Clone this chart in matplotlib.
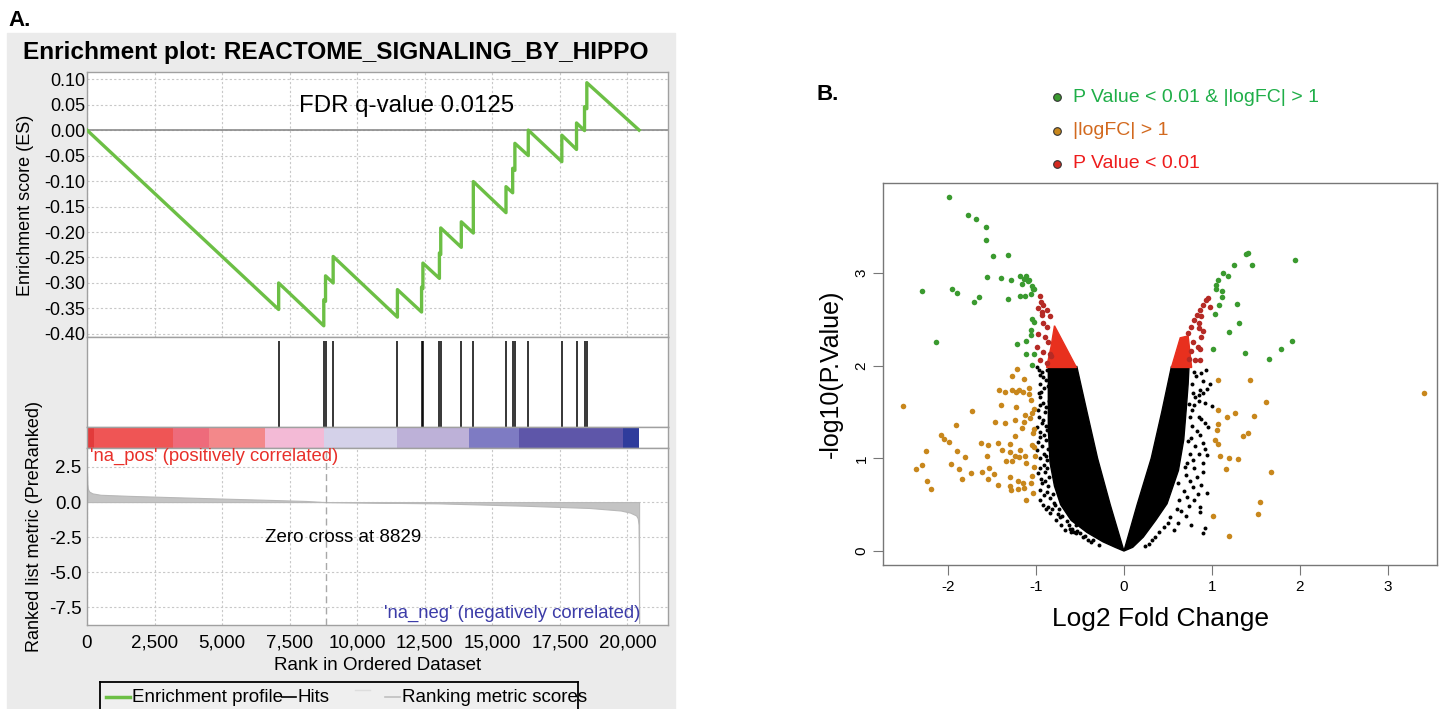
import numpy as np
import matplotlib.pyplot as plt
from matplotlib.lines import Line2D
from matplotlib.patches import Rectangle, Polygon

plt.rcParams['font.family'] = ['Liberation Sans', 'DejaVu Sans']
plt.rcParams['axes.unicode_minus'] = False

# ============ panel A data (GSEA) ============
n_genes = 20430
zero_cross = 8829
fdr_q = 0.0125
hit_ranks = [7092, 8762, 8827, 9109, 11487, 12381, 12430, 13041, 13090, 13851,
             14296, 15505, 15752, 15834, 16329, 17571, 18115, 18411, 18496]
es_rank = [0, 7092, 7092, 8762, 8762, 8827, 8827, 9109, 9109, 11487, 11487,
           12381, 12381, 12430, 12430, 13041, 13041, 13090, 13090, 13851, 13851,
           14296, 14296, 15505, 15505, 15752, 15752, 15834, 15834, 16329, 16329,
           17571, 17571, 18115, 18115, 18411, 18411, 18496, 18496, 20430]
es_score = [0, -0.352, -0.300, -0.384, -0.333, -0.336, -0.286, -0.300, -0.248,
            -0.367, -0.313, -0.357, -0.308, -0.311, -0.261, -0.291, -0.241,
            -0.244, -0.192, -0.230, -0.180, -0.202, -0.101, -0.162, -0.111,
            -0.123, -0.075, -0.079, -0.026, -0.050, 0.000, -0.062, -0.010,
            -0.038, 0.014, -0.001, 0.046, 0.042, 0.093, 0.0]
bar_edges = [0, 267, 3191, 4515, 6580, 8762, 11456, 14148, 16000, 19834, 20430]
bar_colors = ['#e23b3b', '#ef5555', '#ee6b7b', '#f3888a', '#f3bad6',
              '#d4d1e9', '#bdb1d8', '#7e7bc3', '#5e56a9', '#2f3c9c']
metric_rank = [0, 10, 30, 80, 200, 500, 1600, 3000, 4800, 6500, 8100, 8829,
               10500, 13000, 16200, 18600, 19750, 20100, 20320, 20380, 20410,
               20420, 20430]
metric_value = [2.05, 1.3, 0.95, 0.75, 0.62, 0.52, 0.44, 0.36, 0.26, 0.17, 0.08,
                0.0, -0.04, -0.09, -0.26, -0.42, -0.60, -0.75, -0.95, -1.15,
                -1.6, -3.5, -8.6]
rank_ticks = [0, 2500, 5000, 7500, 10000, 12500, 15000, 17500, 20000]
es_ticks = [0.10, 0.05, 0.00, -0.05, -0.10, -0.15, -0.20, -0.25, -0.30, -0.35, -0.40]
metric_ticks = [2.5, 0.0, -2.5, -5.0, -7.5]

# ============ panel B data (volcano) ============
green_fc = [-1.99, -1.77, -1.68, -1.57, -1.57, -1.49, -1.32, -1.56, -1.40, -1.28,
            -1.18, -1.11, -1.16, -1.04, -1.02, -1.06, -1.13, -1.18, -1.08, -2.30,
            -1.95, -1.90, -1.71, -1.65, -1.32, -2.14, -1.05, -1.02, -1.06, -1.06,
            -1.11, -1.22, -1.11, -1.02, -1.04, -1.14, -1.09, -1.03,
            1.41, 1.39, 1.95, 1.25, 1.46, 1.13, 1.18, 1.07, 1.05, 1.05,
            1.12, 1.11, 1.28, 1.08, 1.03, 1.31, 1.20, 1.91, 1.01, 1.79, 1.38, 1.65]
green_p = [3.82, 3.62, 3.58, 3.49, 3.35, 3.18, 3.19, 2.96, 2.95, 2.92,
           2.97, 2.97, 2.88, 2.86, 2.83, 2.77, 2.75, 2.75, 2.92, 2.81,
           2.83, 2.78, 2.69, 2.74, 2.72, 2.25, 2.50, 2.47, 2.38, 2.33,
           2.27, 2.23, 2.12, 2.13, 2.01, 2.93, 2.91, 2.83,
           3.22, 3.20, 3.14, 3.09, 3.08, 3.00, 2.97, 2.92, 2.87, 2.83,
           2.81, 2.74, 2.66, 2.65, 2.56, 2.46, 2.36, 2.27, 2.18, 2.18, 2.14, 2.07]

orange_fc = [-2.51, -1.73, -1.22, -1.27, -1.14, -1.42, -1.35, -1.27, -1.23, -1.19,
             -1.15, -1.08, -1.08, -1.06, -1.40, -1.23, -1.02, -1.04, -1.13, -1.07,
             -1.91, -1.47, -1.35, -1.24, -1.14, -1.16, -1.02, -1.24, -1.03, -2.08,
             -2.05, -1.99, -1.62, -1.55, -1.43, -1.30, -1.39, -1.30, -1.18, -1.04,
             -1.02, -1.90, -2.25, -1.56, -1.81, -1.24, -1.19, -1.13, -1.01, -1.34,
             -1.27, -1.11, -1.97, -2.30, -2.37, -1.88, -1.53, -1.02, -1.74, -1.61,
             -1.48, -1.84, -1.55, -1.30, -1.05, -2.24, -1.43, -1.30, -1.20, -1.15,
             -1.06, -2.19, -1.29, -1.20, -1.14, -1.03, -1.11,
             3.41, 1.07, 1.43, 1.61, 1.07, 1.26, 1.17, 1.48, 1.07, 1.06,
             1.41, 1.35, 1.04, 1.07, 1.09, 1.19, 1.30, 1.16, 1.67, 1.55,
             1.53, 1.01, 1.19]
orange_p = [1.56, 1.51, 1.96, 1.89, 1.86, 1.74, 1.72, 1.74, 1.72, 1.74,
            1.71, 1.76, 1.69, 1.63, 1.57, 1.55, 1.53, 1.49, 1.47, 1.43,
            1.36, 1.39, 1.38, 1.41, 1.39, 1.33, 1.32, 1.24, 1.27, 1.25,
            1.21, 1.18, 1.17, 1.14, 1.17, 1.15, 1.09, 1.07, 1.09, 1.14,
            1.12, 1.08, 1.08, 1.03, 1.01, 1.02, 1.01, 1.02, 1.02, 0.97,
            0.97, 0.95, 0.94, 0.93, 0.88, 0.88, 0.90, 0.91, 0.84, 0.85,
            0.83, 0.78, 0.78, 0.80, 0.81, 0.76, 0.71, 0.70, 0.75, 0.73,
            0.73, 0.67, 0.66, 0.67, 0.68, 0.63, 0.55,
            1.70, 1.85, 1.84, 1.61, 1.52, 1.49, 1.45, 1.46, 1.37, 1.30,
            1.27, 1.24, 1.20, 1.15, 1.02, 1.00, 0.99, 0.89, 0.85, 0.53,
            0.40, 0.38, 0.16]

red_fc = [-0.96, -0.94, -0.92, -0.98, -0.93, -0.88, -0.84, -0.93, -0.92, -0.88,
          -0.98, -0.90, -0.86, -0.99, -0.92, -0.84, -0.96, -0.88, -0.83,
          0.96, 0.93, 0.90, 0.98, 0.87, 0.83, 0.88, 0.80, 0.85, 0.76,
          0.85, 0.90, 0.73, 0.88, 0.79, 0.84, 0.76, 0.87, 0.81, 0.86, 0.74]
red_p = [2.75, 2.69, 2.65, 2.62, 2.58, 2.60, 2.53, 2.55, 2.46, 2.42,
         2.34, 2.31, 2.26, 2.20, 2.15, 2.13, 2.06, 2.03, 2.10,
         2.73, 2.71, 2.65, 2.63, 2.60, 2.55, 2.53, 2.49, 2.46, 2.42,
         2.41, 2.37, 2.35, 2.31, 2.25, 2.20, 2.16, 2.18, 2.06, 2.06, 2.07]
# dense red wedges (too many points to resolve)
red_left_fc = [-0.54, -0.88, -0.83, -0.79]
red_left_p = [1.98, 1.98, 2.20, 2.43]
red_right_fc = [0.54, 0.64, 0.73, 0.77]
red_right_p = [1.98, 2.30, 2.32, 1.98]

# dense black core of the non-significant genes
black_left_fc = [0, -0.10, -0.24, -0.42, -0.60, -0.72, -0.79, -0.84, -0.86, -0.86,
                 -0.86, -0.536, -0.42, -0.30, -0.156]
black_left_p = [0, 0.04, 0.10, 0.20, 0.33, 0.50, 0.70, 0.95, 1.30, 1.65,
                1.99, 1.99, 1.50, 1.00, 0.50]
black_right_fc = [0, 0.10, 0.22, 0.36, 0.49, 0.62, 0.68, 0.71, 0.73, 0.74,
                  0.54, 0.43, 0.31, 0.15]
black_right_p = [0, 0.04, 0.15, 0.33, 0.51, 0.87, 1.20, 1.55, 1.80, 1.99,
                 1.99, 1.50, 1.00, 0.50]
black_fc = [-0.99, -0.96, -0.94, -0.98, -0.99, -0.99, -0.98, -0.96, -0.92, -0.88,
            -0.84, -0.77, -0.67, -0.60, -0.54, -0.88, -0.89, -0.96, -0.92, -0.96,
            -0.88, -0.93, -0.81, -0.86, -0.73, -0.61, -0.50, -0.41, -0.81, -0.82,
            -0.79, -0.69, -0.59, -0.57, -0.35, -0.86, -0.90, -0.87, -0.91, -0.85,
            -0.90, -0.84, -0.86, -0.89, -0.85, -0.92, -0.78, -0.74, -0.65, -0.55,
            -0.47, -0.28,
            -0.97, -0.93, -0.95, -0.91, -0.97, -0.92, -0.95, -0.89, -0.97, -0.93,
            -0.89, -0.95, -0.91, -0.98, -0.93, -0.89, -0.95, -0.91, -0.96, -0.88,
            -0.94, -0.90, -0.86, -0.96, -0.91, -0.84, -0.80, -0.89, -0.82, -0.75,
            -0.70, -0.72, -0.63, -0.53, -0.44, -0.38,
            1.00, 0.96, 0.88, 0.95, 0.90, 0.95, 0.87, 0.86, 0.76, 0.90,
            0.57, 0.74, 0.65, 0.78, 0.88, 0.83, 0.79, 0.81, 0.90, 0.83,
            0.85, 0.77, 0.73, 0.69, 0.62, 0.52, 0.45, 0.32, 0.24, 0.82,
            0.90, 0.98, 0.86, 0.77, 0.85, 0.81, 0.74, 0.92,
            0.93, 0.88, 0.80, 0.95, 0.90, 0.78, 0.92, 0.80, 0.75, 0.85,
            0.92, 0.77, 0.87, 0.76, 0.92, 0.75, 0.85, 0.72, 0.90, 0.80,
            0.70, 0.75, 0.68, 0.84, 0.72, 0.63, 0.80, 0.60, 0.70, 0.50,
            0.62, 0.40, 0.35, 0.28]
black_p = [1.99, 1.90, 1.72, 1.52, 1.34, 1.09, 0.84, 0.55, 0.50, 0.64,
           0.41, 0.33, 0.23, 0.21, 0.19, 1.95, 1.84, 1.66, 1.41, 1.23,
           0.98, 0.73, 0.62, 0.48, 0.37, 0.24, 0.19, 0.12, 1.59, 1.16,
           0.87, 0.51, 0.24, 0.21, 0.12, 1.78, 1.50, 1.30, 1.05, 0.80,
           0.85, 1.45, 1.10, 1.20, 1.62, 1.88, 0.50, 0.45, 0.32, 0.28,
           0.15, 0.06,
           1.95, 1.93, 1.80, 1.76, 1.70, 1.60, 1.57, 1.55, 1.45, 1.38,
           1.35, 1.28, 1.25, 1.18, 1.13, 1.02, 1.00, 0.93, 0.90, 0.90,
           0.78, 0.75, 0.70, 0.66, 0.60, 0.57, 0.52, 0.45, 0.45, 0.40,
           0.38, 0.28, 0.28, 0.22, 0.16, 0.10,
           1.56, 1.34, 1.42, 1.04, 0.85, 0.63, 0.48, 0.42, 0.28, 0.19,
           0.23, 0.49, 0.43, 0.69, 0.71, 0.80, 0.98, 1.13, 1.16, 1.29,
           1.62, 1.52, 1.19, 0.91, 0.73, 0.37, 0.26, 0.12, 0.05, 1.89,
           1.83, 1.80, 1.74, 1.80, 1.68, 1.66, 1.59, 0.25,
           1.95, 1.92, 1.93, 1.75, 1.70, 1.70, 1.60, 1.58, 1.45, 1.45,
           1.38, 1.35, 1.25, 1.22, 1.10, 1.05, 1.05, 0.95, 0.95, 0.90,
           0.82, 0.75, 0.65, 0.62, 0.58, 0.55, 0.55, 0.45, 0.38, 0.30,
           0.30, 0.20, 0.15, 0.08]

legend_labels = ['P Value < 0.01 & |logFC| > 1', '|logFC| > 1', 'P Value < 0.01']
legend_colors = ['#1fae48', '#d2691e', '#ee1c1c']
legend_dots = ['#3a9a2f', '#c8871c', '#d42a20']

W, H = 1448, 709
fig = plt.figure(figsize=(W / 100, H / 100), dpi=100)


def px_axes(l, t, r, b):
    return fig.add_axes([l / W, 1 - b / H, (r - l) / W, (b - t) / H])


def gsea_style(ax):
    for s in ax.spines.values():
        s.set_color('#a0a0a0')
        s.set_linewidth(1)
    ax.set_facecolor('white')


# ---------- panel A ----------
fig.patches.append(Rectangle((7 / W, 0), 668 / W, 676 / H, transform=fig.transFigure,
                             color='#ebebeb', zorder=-5))
fig.text(20 / W, 1 - 20 / H, 'A.', fontsize=16, weight='bold', ha='center', va='center')
fig.text(336 / W, 1 - 52 / H, 'Enrichment plot: REACTOME_SIGNALING_BY_HIPPO',
         fontsize=17.6, weight='bold', ha='center', va='center')

grid_kw = dict(color='#c8c8c8', lw=0.8, ls=(0, (2, 2)))

ax_es = px_axes(87, 72, 668, 337)
gsea_style(ax_es)
ax_es.plot(es_rank, es_score, color='#6cbf45', lw=2.4, zorder=3)
ax_es.axhline(0, color='#8a8a8a', lw=1.2, zorder=2)
ax_es.set_xlim(0, 21500)
ax_es.set_ylim(-0.406, 0.114)
ax_es.set_xticks(rank_ticks)
ax_es.set_yticks(es_ticks)
ax_es.set_yticklabels([f'{v:.2f}' for v in es_ticks])
ax_es.tick_params(axis='x', length=0, labelbottom=False)
ax_es.tick_params(axis='y', length=0, pad=1, labelsize=13)
ax_es.grid(True, **grid_kw)
ax_es.text(0.55, 0.87, f'FDR q-value {fdr_q}', transform=ax_es.transAxes,
           fontsize=17.3, ha='center', va='center')
fig.text(26 / W, 1 - 205 / H, 'Enrichment score (ES)', rotation=90, fontsize=13,
         ha='center', va='center')

ax_hit = px_axes(87, 337, 668, 427)
gsea_style(ax_hit)
ax_hit.vlines(hit_ranks, 0, 0.95, color='black', lw=1.1)
ax_hit.set_xlim(0, 21500)
ax_hit.set_ylim(0, 1)
ax_hit.set_xticks([])
ax_hit.set_yticks([])

ax_bar = px_axes(87, 427, 668, 448)
gsea_style(ax_bar)
for i, c in enumerate(bar_colors):
    ax_bar.axvspan(bar_edges[i], bar_edges[i + 1], color=c, lw=0)
ax_bar.set_xlim(0, 21500)
ax_bar.set_xticks([])
ax_bar.set_yticks([])

ax_m = px_axes(87, 448, 668, 625)
gsea_style(ax_m)
ax_m.fill_between(metric_rank, metric_value, 0, color='#c4c4c4', lw=0.8,
                  edgecolor='#b8b8b8', zorder=2)
ax_m.axvline(zero_cross, color='#a8a8a8', lw=1, ls=(0, (5, 3)), zorder=3)
ax_m.set_xlim(0, 21500)
ax_m.set_ylim(-8.75, 3.85)
ax_m.set_xticks(rank_ticks)
ax_m.set_xticklabels([f'{v:,}' for v in rank_ticks])
ax_m.set_yticks(metric_ticks)
ax_m.set_yticklabels([f'{v:.1f}' for v in metric_ticks])
ax_m.tick_params(length=0, labelsize=13.5)
ax_m.tick_params(axis='x', pad=7)
ax_m.tick_params(axis='y', pad=4)
ax_m.grid(True, **grid_kw)
ax_m.set_xlabel('Rank in Ordered Dataset', fontsize=13.5, labelpad=4)
ax_m.text(0.005, 0.95, "'na_pos' (positively correlated)", transform=ax_m.transAxes,
          color='#e8302a', fontsize=13.3, ha='left', va='center')
ax_m.text(0.44, 0.497, f'Zero cross at {zero_cross}', transform=ax_m.transAxes,
          fontsize=13.5, ha='center', va='center')
ax_m.text(0.953, 0.068, "'na_neg' (negatively correlated)", transform=ax_m.transAxes,
          color='#3c3ca8', fontsize=13.3, ha='right', va='center')
fig.text(35 / W, 1 - 527 / H, 'Ranked list metric (PreRanked)', rotation=90,
         fontsize=13, ha='center', va='center')

# legend box (cut at the bottom like the original)
ax_leg = px_axes(100, 682, 578, 730)
ax_leg.set_facecolor('#efefef')
for s in ax_leg.spines.values():
    s.set_color('black')
    s.set_linewidth(1.3)
ax_leg.set_xlim(100, 578)
ax_leg.set_ylim(730, 682)
ax_leg.set_xticks([])
ax_leg.set_yticks([])
ax_leg.plot([106, 130], [697, 697], color='#6cbf45', lw=2.5)
ax_leg.text(132, 697, 'Enrichment profile', fontsize=13.5, va='center')
ax_leg.plot([282, 296], [697, 697], color='black', lw=1.2)
ax_leg.text(298, 697, 'Hits', fontsize=13.5, va='center')
ax_leg.plot([355, 370], [690, 690], color='#dddddd', lw=1)
ax_leg.plot([385, 400], [697, 697], color='#c0c0c0', lw=1.2)
ax_leg.text(402, 697, 'Ranking metric scores', fontsize=13.5, va='center')

# ---------- panel B ----------
fig.text(828 / W, 1 - 95 / H, 'B.', fontsize=16, weight='bold', ha='center', va='center')
for i, lab in enumerate(legend_labels):
    yy = 1 - (97 + 33.5 * i) / H
    fig.add_artist(Line2D([1057 / W], [yy], transform=fig.transFigure, marker='o',
                          ms=5.5, mfc=legend_dots[i], mec='#333333', mew=0.8, ls=''))
    fig.text(1073 / W, yy, lab, color=legend_colors[i], fontsize=14, va='center')

ax_v = px_axes(883, 183, 1437, 565)
ax_v.add_patch(Polygon(np.column_stack([black_left_fc, black_left_p]), closed=True,
                       fc='black', ec='black', lw=1, zorder=1))
ax_v.add_patch(Polygon(np.column_stack([black_right_fc, black_right_p]), closed=True,
                       fc='black', ec='black', lw=1, zorder=1))
ax_v.scatter(black_fc, black_p, s=8, c='black', lw=0, zorder=2)
ax_v.add_patch(Polygon(np.column_stack([red_left_fc, red_left_p]), closed=True,
                       fc='#e8301e', ec='#e8301e', lw=1, zorder=3))
ax_v.add_patch(Polygon(np.column_stack([red_right_fc, red_right_p]), closed=True,
                       fc='#e8301e', ec='#e8301e', lw=1, zorder=3))
ax_v.scatter(red_fc, red_p, s=16, c='#b52a25', lw=0, zorder=4)
ax_v.scatter(orange_fc, orange_p, s=16, c='#c8871c', lw=0, zorder=4)
ax_v.scatter(green_fc, green_p, s=16, c='#3a9a2f', lw=0, zorder=4)
ax_v.set_xlim(-2.74, 3.56)
ax_v.set_ylim(-0.151, 3.97)
ax_v.set_xticks([-2, -1, 0, 1, 2, 3])
ax_v.set_yticks([0, 1, 2, 3])
ax_v.tick_params(length=7, color='#777777', labelsize=11, direction='out')
ax_v.tick_params(axis='y', labelrotation=90)
for lab in ax_v.get_yticklabels():
    lab.set_va('center')
for s in ax_v.spines.values():
    s.set_color('#777777')
    s.set_linewidth(1)
ax_v.set_xlabel('Log2 Fold Change', fontsize=19, labelpad=10)
ax_v.set_ylabel('-log10(P.Value)', fontsize=18, labelpad=8)

fig.savefig('out.png', dpi=100)
